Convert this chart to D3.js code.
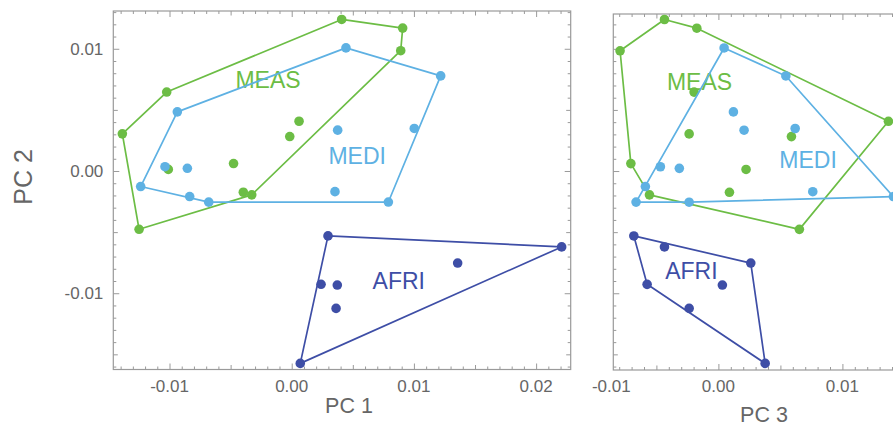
<!DOCTYPE html>
<html>
<head>
<meta charset="utf-8">
<script src="https://cdn.jsdelivr.net/npm/d3@7"></script>
<style>
  body { margin: 0; background: #fff; }
  text { font-family: "Liberation Sans", Arial, sans-serif; }
</style>
</head>
<body>
<script>
// groups and their colours
var groups = ["MEAS", "MEDI", "AFRI"];
var colors = ["#6cbd45", "#5eb1e3", "#3e4ea6"];

// principal component scores per group
var measPC1 = [0.00409, 0.00908, 0.00892, -0.01023, 0.00060, -0.01386, -0.00016, -0.00476, -0.01010, -0.00396, -0.00327, -0.01249];
var measPC2 = [0.01240, 0.01169, 0.00984, 0.00646, 0.00407, 0.00304, 0.00282, 0.00061, 0.00013, -0.00174, -0.00195, -0.00477];
var measPC3 = [-0.00435, -0.00174, -0.00793, -0.00196, 0.01371, -0.00236, 0.00589, -0.00706, 0.00223, 0.00089, -0.00556, 0.00653];

var mediPC1 = [0.00444, 0.01219, -0.00936, 0.00376, 0.01003, -0.01037, -0.00854, -0.01236, 0.00354, -0.00835, -0.00679, 0.00791];
var mediPC2 = [0.01007, 0.00778, 0.00484, 0.00334, 0.00348, 0.00035, 0.00022, -0.00127, -0.00169, -0.00209, -0.00255, -0.00254];
var mediPC3 = [0.00046, 0.00544, 0.00121, 0.00207, 0.00619, -0.00468, -0.00315, -0.00589, 0.00761, 0.01411, -0.00236, -0.00664];

var afriPC1 = [0.00297, 0.02209, 0.01358, 0.00240, 0.00373, 0.00363, 0.00070];
var afriPC2 = [-0.00531, -0.00621, -0.00753, -0.00927, -0.00933, -0.01124, -0.01574];
var afriPC3 = [-0.00682, -0.00435, 0.00261, -0.00575, 0.00032, -0.00236, 0.00377];

// where the group names sit, in data units (x, PC 2)
var labelsPC1 = [[-0.00194, 0.00677], [0.00536, 0.00055], [0.00876, -0.00968]];
var labelsPC3 = [[-0.00152, 0.00663], [0.00723, 0.00022], [-0.00218, -0.00886]];

// tick labels
var xTicksPC1 = [-0.01, 0, 0.01, 0.02];
var xTicksPC3 = [-0.01, 0, 0.01];
var yTicksPC2 = [-0.01, 0, 0.01];

var scores = {
  MEAS: [measPC1, measPC2, measPC3],
  MEDI: [mediPC1, mediPC2, mediPC3],
  AFRI: [afriPC1, afriPC2, afriPC3]
};

var width = 893;
var height = 426;
var frameColor = "#9a9a9a";
var textColor = "#666666";
var fmt = function(d) { return d3.format(".2f")(d).replace("\u2212", "-"); };

var svg = d3.select("body")
            .append("svg")
            .attr("width", width)
            .attr("height", height);

// two panels: PC1 vs PC2, and PC3 vs PC2
var panels = [
  { comp: 0, left: 113.3, right: 570.7, top: 11, bottom: 369.5,
    xDomain: [-0.0146, 0.02283], yDomain: [-0.01624, 0.01309],
    xTicks: xTicksPC1, yLabels: true, labels: labelsPC1,
    title: "PC 1", titleX: 349, titleY: 413 },
  { comp: 2, left: 613.3, right: 1070.7, top: 14, bottom: 370,
    xDomain: [-0.008476, 0.02841], yDomain: [-0.01628, 0.01285],
    xTicks: xTicksPC3, yLabels: false, labels: labelsPC3,
    title: "PC 3", titleX: 764, titleY: 421.5 }
];

// every thousandth inside a domain
function tickList(domain) {
  var out = [];
  for (var k = Math.ceil(domain[0] * 1000); k <= Math.floor(domain[1] * 1000); k++) {
    out.push(k / 1000);
  }
  return out;
}
// long ticks on hundredths, medium on the halves, short otherwise
function tickLen(d) {
  var k = Math.round(d * 1000);
  if (k % 10 === 0) return 6;
  if (k % 5 === 0) return 4.5;
  return 3;
}

panels.forEach(function(p) {
  var x = d3.scaleLinear().domain(p.xDomain).range([p.left, p.right]);
  var y = d3.scaleLinear().domain(p.yDomain).range([p.bottom, p.top]);

  var g = svg.append("g");

  // frame
  g.append("rect")
   .attr("x", p.left)
   .attr("y", p.top)
   .attr("width", p.right - p.left)
   .attr("height", p.bottom - p.top)
   .attr("fill", "none")
   .attr("stroke", frameColor)
   .attr("stroke-width", 1.2);

  var xs = tickList(p.xDomain);
  var ys = tickList(p.yDomain);

  // inward ticks on all four sides
  var sides = [
    { axis: d3.axisBottom(x).tickValues(xs), at: "translate(0," + p.bottom + ")", attr: "y2", sign: -1 },
    { axis: d3.axisTop(x).tickValues(xs), at: "translate(0," + p.top + ")", attr: "y2", sign: 1 },
    { axis: d3.axisLeft(y).tickValues(ys), at: "translate(" + p.left + ",0)", attr: "x2", sign: 1 },
    { axis: d3.axisRight(y).tickValues(ys), at: "translate(" + p.right + ",0)", attr: "x2", sign: -1 }
  ];
  sides.forEach(function(s) {
    var a = g.append("g")
             .attr("transform", s.at)
             .call(s.axis.tickSize(0).tickFormat(""));
    a.select(".domain").remove();
    a.selectAll(".tick line")
     .attr(s.attr, function(d) { return s.sign * tickLen(d); })
     .attr("stroke", frameColor);
  });

  // x tick labels
  g.selectAll("text.xtick")
   .data(p.xTicks)
   .enter()
   .append("text")
   .attr("class", "xtick")
   .attr("x", function(d) { return Math.max(x(d), p.left - 2); })
   .attr("y", 392)
   .attr("text-anchor", "middle")
   .attr("fill", textColor)
   .style("font-size", "17px")
   .text(fmt);

  // y tick labels only on the first panel
  if (p.yLabels) {
    g.selectAll("text.ytick")
     .data(yTicksPC2)
     .enter()
     .append("text")
     .attr("class", "ytick")
     .attr("x", p.left - 10)
     .attr("y", function(d) { return y(d); })
     .attr("dy", "0.36em")
     .attr("text-anchor", "end")
     .attr("fill", textColor)
     .style("font-size", "17px")
     .text(fmt);

    svg.append("text")
       .attr("transform", "translate(31.5," + 177 + ")rotate(-90)")
       .attr("text-anchor", "middle")
       .attr("fill", textColor)
       .style("font-size", "25px")
       .text("PC 2");
  }

  // x axis title
  g.append("text")
   .attr("x", p.titleX)
   .attr("y", p.titleY)
   .attr("text-anchor", "middle")
   .attr("fill", textColor)
   .style("font-size", "21.5px")
   .text(p.title);

  // hull, points and name for each group
  groups.forEach(function(name, i) {
    var xv = scores[name][p.comp];
    var yv = scores[name][1];
    var pts = xv.map(function(v, j) { return [x(v), y(yv[j])]; });
    var hull = d3.polygonHull(pts);

    g.append("path")
     .attr("d", "M" + hull.join("L") + "Z")
     .attr("fill", "none")
     .attr("stroke", colors[i])
     .attr("stroke-width", 1.7)
     .attr("stroke-linejoin", "round");

    g.selectAll("circle.g" + i)
     .data(pts)
     .enter()
     .append("circle")
     .attr("class", "g" + i)
     .attr("cx", function(d) { return d[0]; })
     .attr("cy", function(d) { return d[1]; })
     .attr("r", 4.8)
     .attr("fill", colors[i]);

    g.append("text")
     .attr("x", x(p.labels[i][0]))
     .attr("y", y(p.labels[i][1]))
     .attr("text-anchor", "middle")
     .attr("fill", colors[i])
     .style("font-size", "23px")
     .text(name);
  });
});
</script>
</body>
</html>
